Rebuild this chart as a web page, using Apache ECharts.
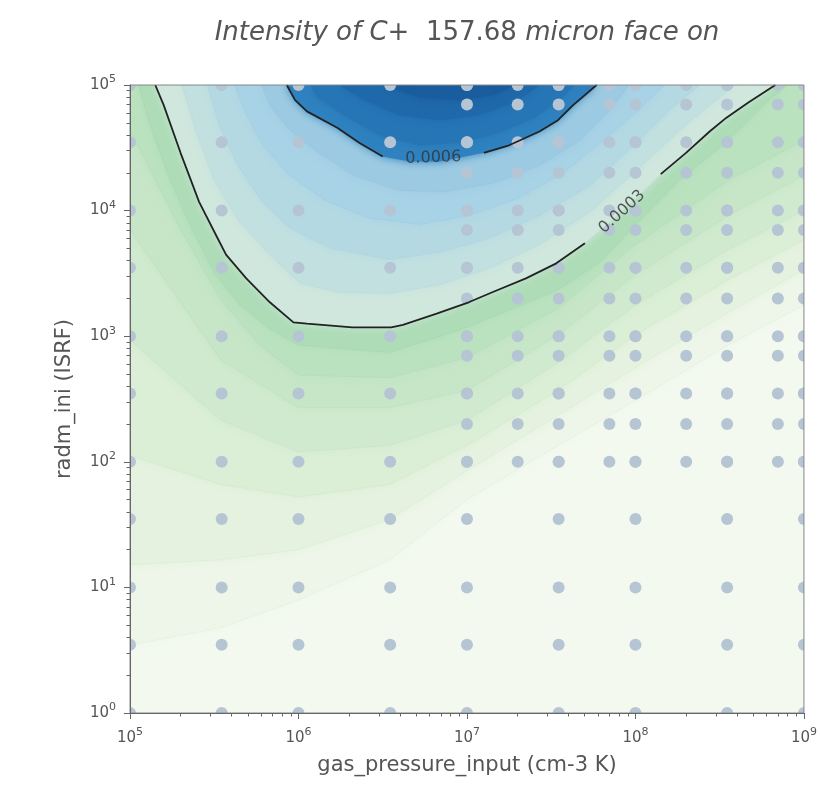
<!DOCTYPE html>
<html>
<head>
<meta charset="utf-8">
<script src="https://cdn.jsdelivr.net/npm/echarts@6/dist/echarts.min.js"></script>
<style>
html, body { margin: 0; padding: 0; background: #fff; }
#chart { width: 820px; height: 799px; }
</style>
</head>
<body>
<div id="chart"></div>
<script>
// model grid (gas pressure in cm-3 K, radiation field in ISRF)
var pressureCoarse = [1e5, 3.5e5, 1e6, 3.5e6, 1e7, 3.5e7, 1e8, 3.5e8, 1e9];
var radmCoarse = [1, 3.5, 10, 35, 100, 350, 1e3, 3.5e3, 1e4, 3.5e4, 1e5];
var pressureFine = [1e7, 2e7, 3.5e7, 7e7, 1e8, 2e8, 3.5e8, 7e8, 1e9];
var radmFine = [1e2, 2e2, 3.5e2, 7e2, 1e3, 2e3, 3.5e3, 7e3, 1e4, 2e4, 3.5e4, 7e4, 1e5];

// axis decades (log10) and minor tick multipliers
var xDecades = [5, 6, 7, 8, 9];
var yDecades = [0, 1, 2, 3, 4, 5];
var minorMult = [2, 3, 4, 5, 6, 7, 8, 9];

// labelled contours, points are [log10 pressure, log10 radm]
var line0003a = [[5.15, 5], [5.2, 4.84], [5.3, 4.46], [5.41, 4.07], [5.52, 3.78], [5.57, 3.65], [5.69, 3.46],
  [5.83, 3.27], [5.97, 3.11], [6.05, 3.1], [6.32, 3.07], [6.55, 3.07], [6.62, 3.09], [6.82, 3.18], [7.01, 3.27],
  [7.15, 3.35], [7.35, 3.46], [7.53, 3.58], [7.7, 3.74]];
var line0003b = [[8.15, 4.29], [8.3, 4.46], [8.44, 4.63], [8.54, 4.74], [8.67, 4.86], [8.83, 5]];
var line0006a = [[5.93, 5], [5.98, 4.88], [6.05, 4.79], [6.23, 4.66], [6.36, 4.54], [6.5, 4.43]];
var line0006b = [[7.1, 4.46], [7.25, 4.52], [7.43, 4.63], [7.54, 4.72], [7.63, 4.84], [7.77, 5]];
var contourLabels = ['0.0003', '0.0006'];
var labelPos = [[7.92, 3.99], [6.8, 4.42]];
var labelAngle = [42, 2];

// filled contour levels and outlines (region >= level)
var fillLevels = [0, 0.00003, 0.00006, 0.0001, 0.00014, 0.00018, 0.00022, 0.00026, 0.0003,
  0.00036, 0.00042, 0.00048, 0.00054, 0.0006, 0.00066, 0.00072, 0.00078];
var fillPaths = [
  [[5, 0], [9, 0], [9, 5], [5, 5]],
  [[5, 0.54], [5.54, 0.68], [6, 0.9], [6.54, 1.22], [7, 1.7], [7.54, 2.13], [8, 2.49], [8.55, 2.93], [9, 3.25], [9, 5], [5, 5]],
  [[5, 1.18], [5.54, 1.22], [6, 1.3], [6.54, 1.54], [7, 1.93], [7.54, 2.37], [8, 2.75], [8.55, 3.19], [9, 3.53], [9, 5], [5, 5]],
  [[5, 2.05], [5.54, 1.82], [6, 1.72], [6.54, 1.82], [7, 2.13], [7.54, 2.57], [8, 3.01], [8.55, 3.45], [9, 3.77], [9, 5], [5, 5]],
  [[5, 2.97], [5.54, 2.33], [6, 2.08], [6.54, 2.13], [7, 2.33], [7.54, 2.79], [8, 3.25], [8.55, 3.69], [9, 4], [9, 5], [5, 5]],
  [[5, 3.85], [5.54, 2.81], [6, 2.43], [6.54, 2.43], [7, 2.57], [7.54, 3.01], [8, 3.49], [8.55, 3.96], [9, 4.28], [9, 5], [5, 5]],
  [[5, 4.64], [5.3, 3.85], [5.54, 3.29], [5.77, 2.93], [6, 2.69], [6.54, 2.67], [7, 2.83], [7.54, 3.22], [8, 3.73], [8.55, 4.24], [9, 4.56], [9, 5], [5, 5]],
  [[5.05, 5], [5.12, 4.68], [5.24, 4.24], [5.37, 3.85], [5.5, 3.51], [5.65, 3.25], [5.83, 3.06], [6, 2.93], [6.54, 2.87],
    [7, 3.07], [7.54, 3.37], [7.79, 3.59], [8, 3.89], [8.26, 4.24], [8.55, 4.56], [8.79, 4.88], [8.9, 5]],
  line0003a.concat([labelPos[0]], line0003b),
  [[5.31, 5], [5.39, 4.64], [5.5, 4.24], [5.65, 3.91], [5.83, 3.65], [6.01, 3.42], [6.24, 3.35], [6.54, 3.34], [6.84, 3.41],
    [7.13, 3.54], [7.43, 3.73], [7.73, 3.99], [8.02, 4.34], [8.32, 4.71], [8.59, 5]],
  [[5.46, 5], [5.53, 4.68], [5.64, 4.36], [5.78, 4.08], [5.95, 3.86], [6.19, 3.7], [6.54, 3.61], [6.84, 3.67], [7.13, 3.78],
    [7.43, 3.96], [7.73, 4.2], [7.99, 4.52], [8.2, 4.8], [8.38, 5]],
  [[5.62, 5], [5.7, 4.74], [5.8, 4.5], [5.95, 4.28], [6.16, 4.08], [6.42, 3.94], [6.72, 3.89], [7.01, 3.96], [7.31, 4.1],
    [7.58, 4.31], [7.81, 4.56], [8.02, 4.8], [8.17, 5]],
  [[5.78, 5], [5.84, 4.82], [5.95, 4.64], [6.11, 4.47], [6.33, 4.28], [6.6, 4.16], [6.87, 4.15], [7.16, 4.22], [7.43, 4.36],
    [7.67, 4.56], [7.84, 4.79], [7.96, 5]],
  line0006a.concat([[6.66, 4.39], [6.84, 4.39]], line0006b),
  [[6.07, 5], [6.11, 4.9], [6.27, 4.76], [6.48, 4.6], [6.72, 4.52], [6.96, 4.54], [7.19, 4.62], [7.4, 4.74], [7.55, 4.88], [7.64, 5]],
  [[6.24, 5], [6.39, 4.88], [6.6, 4.76], [6.84, 4.72], [7.07, 4.76], [7.28, 4.86], [7.43, 5]],
  [[6.51, 5], [6.72, 4.9], [6.96, 4.88], [7.16, 4.92], [7.28, 5]]
];

// colours of each filled band
var fillColors = ['#f3f9ef', '#edf6e8', '#e5f2df', '#dbeed6', '#d0eacf', '#c6e6c7', '#bbe2bf', '#addcb7', '#d0e7dd',
  '#c2e0e0', '#b4d9e3', '#a8d2e6', '#9ccae2', '#2f82bf', '#2676b6', '#1f69aa', '#1a5d9e'];

var FONT = 'DejaVu Sans';
var GREY = '#555';

function gridPoints(xs, ys) {
	var out = [];
	ys.forEach(function (g) {
		xs.forEach(function (p) {
			out.push([Math.log10(p), Math.log10(g)]);
		});
	});
	return out;
}

function minorTicks(decades) {
	var out = [];
	for (var i = 0; i < decades.length - 1; i++) {
		minorMult.forEach(function (m) {
			out.push(decades[i] + Math.log10(m));
		});
	}
	return out;
}

function powLabel(v) {
	return '{b|10}{s|' + Math.round(v) + '}';
}

var powRich = {
	b: {fontSize: 15, lineHeight: 22, color: GREY, fontFamily: FONT},
	s: {fontSize: 11, lineHeight: 12, verticalAlign: 'top', color: GREY, fontFamily: FONT}
};

function majorAxis(decades, name, gap, margin) {
	return {
		type: 'value',
		min: decades[0],
		max: decades[decades.length - 1],
		interval: 1,
		z: 10,
		name: name,
		nameLocation: 'middle',
		nameGap: gap,
		nameTextStyle: {fontSize: 21, color: GREY, fontFamily: FONT},
		axisLine: {show: true, lineStyle: {color: '#666', width: 1}},
		axisTick: {show: true, length: 6, lineStyle: {color: '#666'}},
		splitLine: {show: false},
		axisLabel: {margin: margin, formatter: powLabel, rich: powRich}
	};
}

function minorAxis(decades, position) {
	return {
		type: 'value',
		min: decades[0],
		max: decades[decades.length - 1],
		position: position,
		z: 10,
		axisLine: {show: false},
		axisLabel: {show: false},
		splitLine: {show: false},
		axisTick: {show: true, length: 3.5, customValues: minorTicks(decades), lineStyle: {color: '#666'}}
	};
}

var myChart = echarts.init(document.getElementById('chart'));

var lineSeries = [line0003a, line0003b, line0006a, line0006b].map(function (seg) {
	return {
		type: 'line',
		data: seg,
		symbol: 'none',
		z: 5,
		silent: true,
		lineStyle: {color: '#222', width: 1.8}
	};
});

var option = {
	animation: false,
	backgroundColor: '#fff',
	title: {
		text: '{it|Intensity of C}{rm|+  157.68 }{it|micron face on}',
		left: 462,
		top: 15,
		textAlign: 'center',
		textStyle: {
			fontWeight: 'normal',
			rich: {
				it: {fontSize: 26, fontStyle: 'italic', fontWeight: 'normal', color: GREY, fontFamily: FONT},
				rm: {fontSize: 26, fontWeight: 'normal', color: GREY, fontFamily: FONT}
			}
		}
	},
	grid: {left: 130, right: 15, top: 85, bottom: 86, show: true, z: 10,
		borderColor: '#888', borderWidth: 1, backgroundColor: 'transparent'},
	xAxis: [majorAxis(xDecades, 'gas_pressure_input (cm-3 K)', 42, 14), minorAxis(xDecades, 'bottom')],
	yAxis: [majorAxis(yDecades, 'radm_ini (ISRF)', 55, 14), minorAxis(yDecades, 'left')],
	series: [
		{
			// filled contours
			type: 'custom',
			clip: true,
			silent: true,
			z: 1,
			data: fillLevels.map(function (l, i) { return [fillPaths[i][0][0], fillPaths[i][0][1], l]; }),
			encode: {x: 0, y: 1},
			renderItem: function (params, api) {
				var pts = fillPaths[params.dataIndex].map(function (p) { return api.coord(p); });
				var c = fillColors[params.dataIndex];
				return {
					type: 'polygon',
					shape: {points: pts},
					style: {fill: c, stroke: 'rgba(40,90,70,0.06)', lineWidth: 0.7,
						shadowBlur: 8, shadowColor: c}
				};
			}
		},
		{
			// model grid points, clipped at the frame like the original
			type: 'custom',
			clip: true,
			silent: true,
			z: 3,
			data: gridPoints(pressureCoarse, radmCoarse).concat(gridPoints(pressureFine, radmFine)),
			encode: {x: 0, y: 1},
			renderItem: function (params, api) {
				var c = api.coord([api.value(0), api.value(1)]);
				return {
					type: 'circle',
					shape: {cx: c[0], cy: c[1], r: 6},
					style: {fill: '#b6c5d4'}
				};
			}
		}
	].concat(lineSeries, [{
		// contour labels
		type: 'scatter',
		symbolSize: 0,
		z: 6,
		silent: true,
		data: labelPos.map(function (p, i) {
			return {value: [p[0], p[1]], name: contourLabels[i], label: {rotate: labelAngle[i]}};
		}),
		label: {show: true, position: 'inside', formatter: '{b}', fontSize: 16, color: '#333', fontFamily: FONT}
	}])
};

myChart.setOption(option);
</script>
</body>
</html>
